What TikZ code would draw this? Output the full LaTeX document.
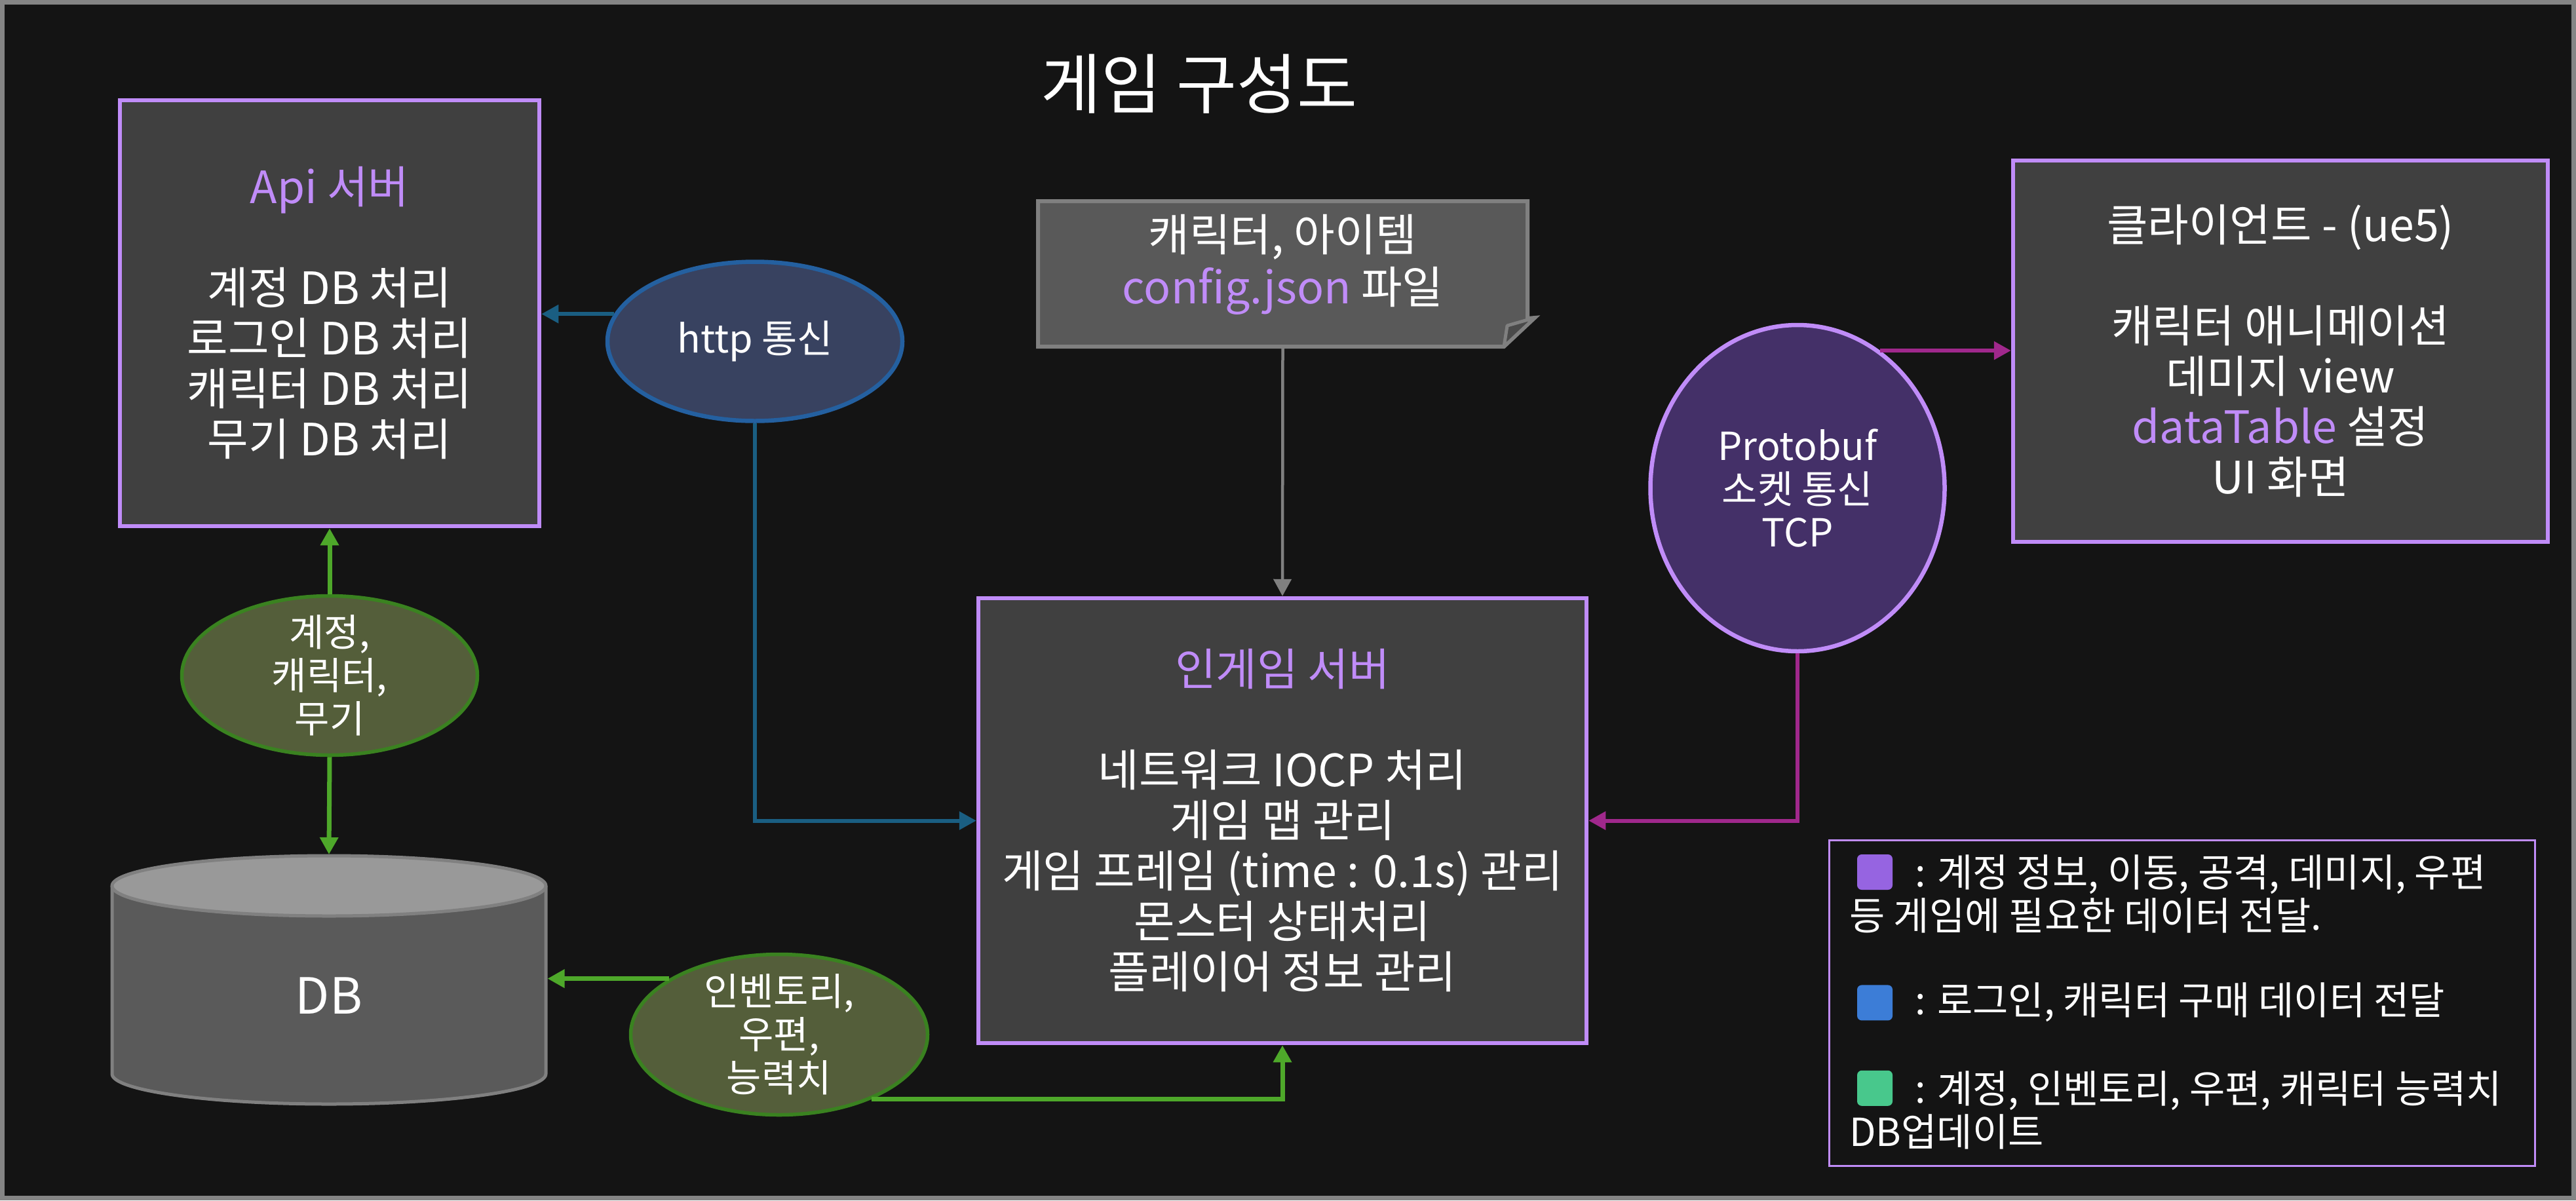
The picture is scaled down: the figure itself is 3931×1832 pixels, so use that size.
\documentclass[tikz,border=0pt]{standalone}
\usepackage{fontspec}
\setmainfont{Noto Sans CJK KR}
\usepackage{xcolor}
\usepackage{tikz}
\usetikzlibrary{shapes.geometric, arrows.meta, positioning}
\definecolor{bgdark}{RGB}{20, 20, 20}
\definecolor{framegray}{RGB}{133, 133, 133}
\definecolor{lavender}{RGB}{192, 140, 248}
\definecolor{boxgray}{RGB}{64, 64, 64}
\definecolor{notefill}{RGB}{89, 89, 89}
\definecolor{noteline}{RGB}{128, 128, 128}
\definecolor{foldfill}{RGB}{74, 74, 74}
\definecolor{httpfill}{RGB}{56, 66, 96}
\definecolor{httpline}{RGB}{36, 96, 160}
\definecolor{protofill}{RGB}{68, 48, 104}
\definecolor{ovalgreen}{RGB}{84, 94, 58}
\definecolor{ovalline}{RGB}{58, 130, 32}
\definecolor{linkteal}{RGB}{26, 94, 130}
\definecolor{linkmagenta}{RGB}{160, 40, 140}
\definecolor{linkgreen}{RGB}{78, 168, 42}
\definecolor{dbtop}{RGB}{153, 153, 153}
\definecolor{dbbody}{RGB}{90, 90, 90}
\definecolor{keypurple}{RGB}{150, 100, 225}
\definecolor{keyblue}{RGB}{60, 125, 215}
\definecolor{keygreen}{RGB}{72, 200, 140}

\begin{document}
\begin{tikzpicture}[
    x=1pt, y=-1pt,
    serverbox/.style={
        rectangle, draw=lavender, fill=boxgray, line width=6.5pt,
        text=white, align=center, inner sep=0pt, font=\fontsize{68}{77}\selectfont
    },
    notebox/.style={
        rectangle, text=white, align=center, inner sep=0pt,
        minimum width=747pt, minimum height=222pt, font=\fontsize{68}{80}\selectfont
    },
    linkoval/.style={
        ellipse, line width=6.5pt, text=white, align=center, inner sep=-30pt,
        font=\fontsize{59}{66}\selectfont
    },
    dataoval/.style={linkoval, draw=ovalline, fill=ovalgreen, line width=5.5pt},
    dbnode/.style={
        rectangle, text=white, inner sep=0pt, outer sep=0pt,
        minimum width=667pt, minimum height=383pt, font=\fontsize{76}{90}\selectfont,
        text height=104pt, text depth=0pt
    },
    legkey/.style={rectangle, rounded corners=7pt, minimum size=54pt, inner sep=0pt},
    legtext/.style={anchor=west, align=left, text=white, inner sep=0pt, font=\fontsize{59}{66}\selectfont},
    arrow/.style={-{Triangle[length=26pt, width=27pt]}, line width=6pt}
]
    \fill [framegray] (0,0) rectangle (3931,1832);
    \fill [bgdark] (7,7) rectangle (3924,1825);

    \node [text=white, font=\fontsize{100}{120}\selectfont] (title) at (1830,128) {게임 구성도};

    \node [serverbox, minimum width=640pt, minimum height=650pt] (api) at (503,478) {
        \textcolor{lavender}{Api 서버}\\[77pt]
        계정 DB 처리\\
        로그인 DB 처리\\
        캐릭터 DB 처리\\
        무기 DB 처리
    };

    \node [linkoval, draw=httpline, fill=httpfill, minimum width=450pt, minimum height=243pt] (http) at (1152,521) {http 통신};

    \filldraw [draw=noteline, fill=notefill, line width=6pt]
        (1584,307) -- (2331,307) -- (2331,486) -- (2342,485) -- (2295,529) -- (1584,529) -- cycle;
    \filldraw [draw=noteline, fill=foldfill, line width=5pt, line join=bevel]
        (2300,497) -- (2342,485) -- (2295,529) -- cycle;
    \node [notebox, text depth=46pt] (note) at (1957.5,418) {
        캐릭터, 아이템\\
        \textcolor{lavender}{config.json} 파일
    };

    \node [serverbox, minimum width=928pt, minimum height=679pt] (game) at (1957,1252.5) {
        \textcolor{lavender}{인게임 서버}\\[77pt]
        네트워크 IOCP 처리\\
        게임 맵 관리\\
        게임 프레임 (time : 0.1s) 관리\\
        몬스터 상태처리\\
        플레이어 정보 관리
    };

    \node [linkoval, draw=lavender, fill=protofill, minimum width=449pt, minimum height=498pt] (proto) at (2743,745) {
        Protobuf\\
        소켓 통신\\
        TCP
    };

    \node [serverbox, minimum width=816pt, minimum height=582pt] (client) at (3480,536) {
        클라이언트 - (ue5)\\[77pt]
        캐릭터 애니메이션\\
        데미지 view\\
        \textcolor{lavender}{dataTable} 설정\\
        UI 화면
    };

    \node [dataoval, font=\fontsize{58}{66}\selectfont, minimum width=451pt, minimum height=243pt] (acct) at (503,1031) {계정,\\캐릭터,\\무기};

    \fill [dbbody] (170.5,1352) rectangle (833.5,1639);
    \fill [dbbody] (502,1639) ellipse [x radius=331pt, y radius=46pt];
    \draw [noteline, line width=5pt] (171,1352) -- (171,1639)
        arc [start angle=180, end angle=360, x radius=331pt, y radius=46pt] -- (833,1352);
    \filldraw [draw=noteline, fill=dbtop, line width=5pt] (502,1352) ellipse [x radius=331pt, y radius=46pt];
    \node [dbnode] (db) at (502,1495.5) {DB};

    \node [dataoval, font=\fontsize{58}{66}\selectfont, minimum width=453pt, minimum height=245pt] (inv) at (1189,1579) {인벤토리,\\우편,\\능력치};

    \node [rectangle, draw=lavender, line width=3pt, minimum width=1077pt, minimum height=497pt] (legend) at (3330,1531) {};
    \node [legkey, fill=keypurple] (keyA) at (2861,1331) {};
    \node [legkey, fill=keyblue, below=145pt of keyA] (keyB) {};
    \node [legkey, fill=keygreen, below=76pt of keyB] (keyC) {};
    \node [legtext] (legA) at (2822,1364) {\hspace*{100pt}: 계정 정보, 이동, 공격, 데미지, 우편\\등 게임에 필요한 데이터 전달.};
    \node [legtext] (legB) at (2822,1530) {\hspace*{100pt}: 로그인, 캐릭터 구매 데이터 전달};
    \node [legtext] (legC) at (2822,1694) {\hspace*{100pt}: 계정, 인벤토리, 우편, 캐릭터 능력치\\DB업데이트};

    \draw [arrow, color=linkteal] (http.169) -- (http.169 -| api.east);
    \draw [arrow, color=linkteal] (http.south) |- (game.west);
    \draw [arrow, color=noteline, line width=4.5pt] (note.south) -- (game.north);
    \draw [arrow, color=linkmagenta] (proto.59) -- (proto.59 -| client.west);
    \draw [arrow, color=linkmagenta] (proto.south) |- (game.east);
    \draw [arrow, color=linkgreen, line width=7pt] (acct.north) -- (api.south);
    \draw [arrow, color=linkgreen, line width=7pt] (acct.south) -- (db.north);
    \draw [arrow, color=linkgreen, line width=7pt] (inv.153) -- (inv.153 -| db.east);
    \draw [arrow, color=linkgreen, line width=7pt] (inv.325) -| (game.south);
\end{tikzpicture}
\end{document}
